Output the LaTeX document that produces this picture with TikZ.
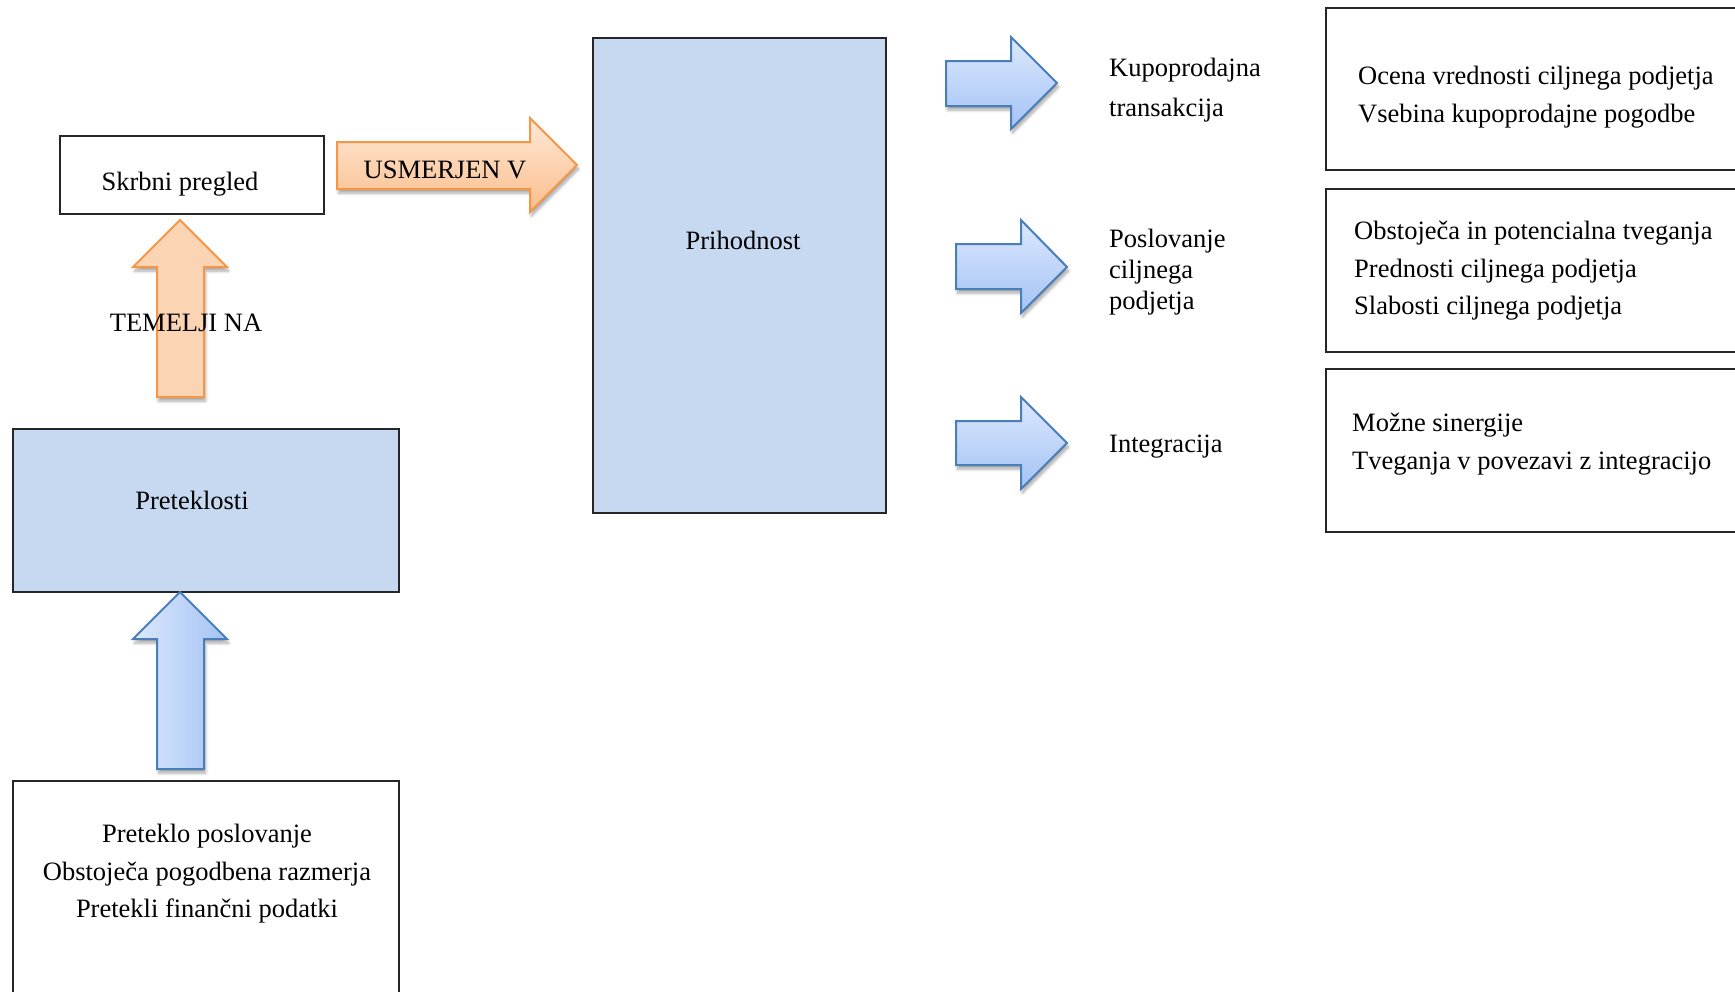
\documentclass[tikz,border=0pt]{standalone}
\usepackage{fontspec}
\setmainfont{Liberation Serif}
\usetikzlibrary{shadows.blur}

\definecolor{boxfill}{HTML}{C6D9F1}
\definecolor{frame}{HTML}{262626}
\definecolor{blueedge}{HTML}{4A7EBB}
\definecolor{bluelight}{HTML}{DCE8FD}
\definecolor{bluedark}{HTML}{A4C3F5}
\definecolor{orangeedge}{HTML}{F79646}
\definecolor{orangelight}{HTML}{FEE8D7}
\definecolor{orangedark}{HTML}{FBBE8C}
\definecolor{orangeflat}{HTML}{FBD4B4}

\tikzset{
  panel/.style={draw=frame, line width=1.6pt, anchor=north west, inner sep=0pt, outer sep=0pt},
  txt/.style={inner sep=0pt, font=\fontsize{26.5}{37.5}\selectfont},
  blockshadow/.style={blur shadow={shadow xshift=1.5pt, shadow yshift=-4pt,
      shadow opacity=35, shadow blur radius=3pt, shadow blur steps=6}},
  blockarrow/.style={line width=2pt, line join=miter, blockshadow},
  bluearrow/.style={blockarrow, draw=blueedge, top color=bluelight, bottom color=bluedark},
  blueuparrow/.style={blockarrow, draw=blueedge, left color=bluelight, right color=bluedark},
  orangearrow/.style={blockarrow, draw=orangeedge, top color=orangelight, bottom color=orangedark},
  orangeuparrow/.style={blockarrow, draw=orangeedge, fill=orangeflat},
}

\begin{document}
\begin{tikzpicture}[x=1pt, y=-1pt]
\useasboundingbox (0,0) rectangle (1735,991);

% ---- left column ----
\node[panel, minimum width=264pt, minimum height=78pt] (skrbnibox) at (60,136) {};
\node[txt, anchor=base] (skrbni) at (180,190.5) {Skrbni pregled};

\node[panel, fill=boxfill, minimum width=386pt, minimum height=163pt] (preteklostibox) at (13,429) {};
\node[txt, anchor=base] (preteklosti) at (192,509.5) {Preteklosti};

\node[panel, minimum width=386pt, minimum height=240pt] (pastbox) at (13,781) {};
\node[txt, align=center] (pasttext) at (207,874)
  {Preteklo poslovanje\\Obstoječa pogodbena razmerja\\Pretekli finančni podatki};

% up arrow from the past data to Preteklosti
\path[blueuparrow] (157,769) -- (157,639) -- (133,639) -- (180,592)
  -- (227,639) -- (204,639) -- (204,769) -- cycle;

% up arrow "TEMELJI NA"
\path[orangeuparrow] (157,397) -- (157,267) -- (133,267) -- (180,220)
  -- (227,267) -- (204,267) -- (204,397) -- cycle;
\node[txt, anchor=base] (temelji) at (186,331) {TEMELJI NA};

% right arrow "USMERJEN V"
\path[orangearrow] (337,142) -- (530,142) -- (530,118) -- (577,165)
  -- (530,212) -- (530,189) -- (337,189) -- cycle;
\node[txt, anchor=base] (usmerjen) at (445,178) {USMERJEN V};

% ---- centre ----
\node[panel, fill=boxfill, minimum width=293pt, minimum height=475pt] (prihodnostbox) at (593,38) {};
\node[txt, anchor=base] (prihodnost) at (743,249.5) {Prihodnost};

% ---- right-hand arrows ----
\path[bluearrow] (946,61) -- (1011,61) -- (1011,37) -- (1057,83)
  -- (1011,129) -- (1011,106) -- (946,106) -- cycle;
\path[bluearrow] (956,244) -- (1021,244) -- (1021,220) -- (1067,267)
  -- (1021,313) -- (1021,289) -- (956,289) -- cycle;
\path[bluearrow] (956,421) -- (1021,421) -- (1021,397) -- (1067,443)
  -- (1021,489) -- (1021,465) -- (956,465) -- cycle;

\node[txt, anchor=west, align=left, font=\fontsize{26.5}{40}\selectfont] (kupo) at (1109,90)
  {Kupoprodajna\\transakcija};
\node[txt, anchor=west, align=left, font=\fontsize{26.5}{31}\selectfont] (poslovanje) at (1109,272)
  {Poslovanje\\ciljnega\\podjetja};
\node[txt, anchor=base west] (integracija) at (1109,452.5) {Integracija};

% ---- right-hand boxes ----
\node[panel, minimum width=430pt, minimum height=162pt] (box1) at (1326,8) {};
\node[txt, anchor=west, align=left] (box1text) at (1358,97)
  {Ocena vrednosti ciljnega podjetja\\Vsebina kupoprodajne pogodbe};

\node[panel, minimum width=430pt, minimum height=163pt] (box2) at (1326,189) {};
\node[txt, anchor=west, align=left] (box2text) at (1354,271)
  {Obstoječa in potencialna tveganja\\Prednosti ciljnega podjetja\\Slabosti ciljnega podjetja};

\node[panel, minimum width=430pt, minimum height=163pt] (box3) at (1326,369) {};
\node[txt, anchor=west, align=left] (box3text) at (1352,444)
  {Možne sinergije\\Tveganja v povezavi z integracijo};
\end{tikzpicture}
\end{document}
